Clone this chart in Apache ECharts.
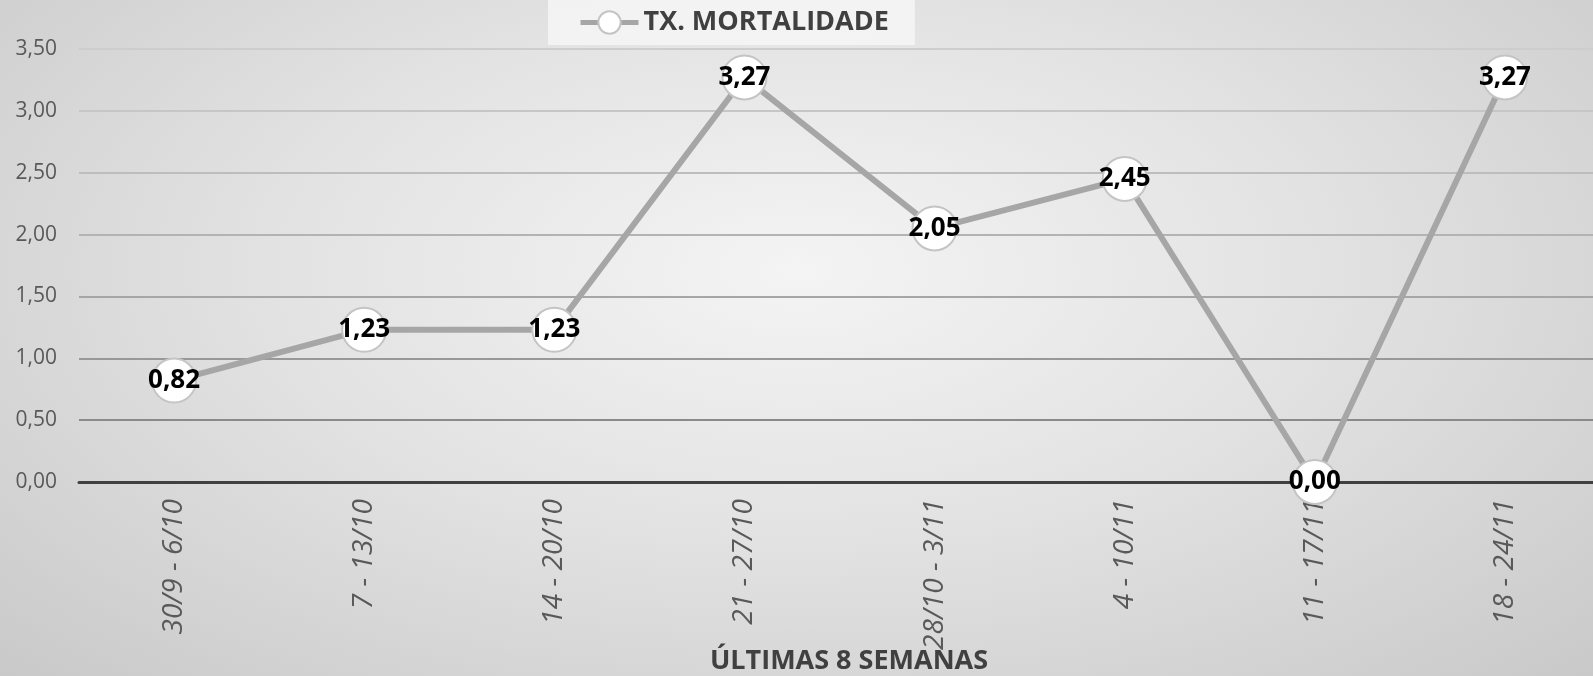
<!DOCTYPE html>
<html>
<head>
<meta charset="utf-8">
<script src="https://cdn.jsdelivr.net/npm/echarts@6/dist/echarts.min.js"></script>
<style>
  html, body { margin: 0; padding: 0; }
  #chart {
    width: 1593px;
    height: 676px;
    background: radial-gradient(ellipse farthest-corner at 50% 40%, #f4f4f4 0%, #e3e3e3 45%, #c9c9c9 100%);
  }
</style>
</head>
<body>
<div id="chart"></div>
<script>
// semanas e taxa de mortalidade
const categories = ['30/9 - 6/10', '7 - 13/10', '14 - 20/10', '21 - 27/10', '28/10 - 3/11', '4 - 10/11', '11 - 17/11', '18 - 24/11']
const mortalidade = [0.82, 1.23, 1.23, 3.27, 2.05, 2.45, 0.00, 3.27]
const yTicks = { min: 0, max: 3.5, interval: 0.5 }

const fmt = (v) => Number(v).toFixed(2).replace('.', ',')
const font = '"Open Sans", "Noto Sans", sans-serif'

const chart = echarts.init(document.getElementById('chart'))
chart.setOption({
  backgroundColor: 'transparent',
  animation: false,
  textStyle: { fontFamily: font },
  legend: {
    left: 548,
    top: 0,
    padding: [9, 26, 9, 30],
    backgroundColor: 'rgba(248,248,248,0.75)',
    itemWidth: 58,
    itemHeight: 28,
    itemGap: 3,
    lineStyle: { width: 5 },
    textStyle: { fontSize: 27, fontWeight: 'bold', color: '#404040', fontFamily: font },
    data: ['TX. MORTALIDADE'],
  },
  grid: {
    left: 79,
    top: 49,
    width: 1521,
    height: 433,
    outerBoundsMode: 'none',
    containLabel: false,
  },
  xAxis: {
    type: 'category',
    data: categories,
    boundaryGap: true,
    axisTick: { show: false },
    axisLine: { show: true, lineStyle: { color: '#404040', width: 3 } },
    axisLabel: {
      rotate: 90,
      margin: 17,
      fontSize: 28,
      fontStyle: 'italic',
      color: '#595959',
      fontFamily: font,
    },
    name: 'ÚLTIMAS 8 SEMANAS',
    nameLocation: 'middle',
    nameMoveOverlap: false,
    nameGap: 166,
    nameTextStyle: {
      fontSize: 27,
      fontWeight: 'bold',
      color: '#404040',
      fontFamily: font,
      padding: [0, 0, 0, 19],
    },
  },
  yAxis: {
    type: 'value',
    min: yTicks.min,
    max: yTicks.max,
    interval: yTicks.interval,
    axisLine: { show: false },
    axisTick: { show: false },
    axisLabel: {
      margin: 22,
      fontSize: 21,
      color: '#595959',
      fontFamily: font,
      formatter: fmt,
    },
    splitLine: {
      lineStyle: {
        width: 2,
        color: ['#404040', '#8a8a8a', '#989898', '#a6a6a6', '#b3b3b3', '#bdbdbd', '#c6c6c6', '#cdcdcd'],
      },
    },
  },
  series: [
    {
      name: 'TX. MORTALIDADE',
      type: 'line',
      data: mortalidade,
      symbol: 'circle',
      symbolSize: 44,
      lineStyle: { color: '#a6a6a6', width: 6 },
      itemStyle: { color: '#ffffff', borderColor: '#c4c4c4', borderWidth: 2 },
      label: {
        show: true,
        position: 'inside',
        fontSize: 26,
        fontWeight: 'bold',
        color: '#000000',
        fontFamily: font,
        formatter: (p) => fmt(p.value),
      },
    },
  ],
})

window.addEventListener('resize', () => chart.resize())
</script>
</body>
</html>
